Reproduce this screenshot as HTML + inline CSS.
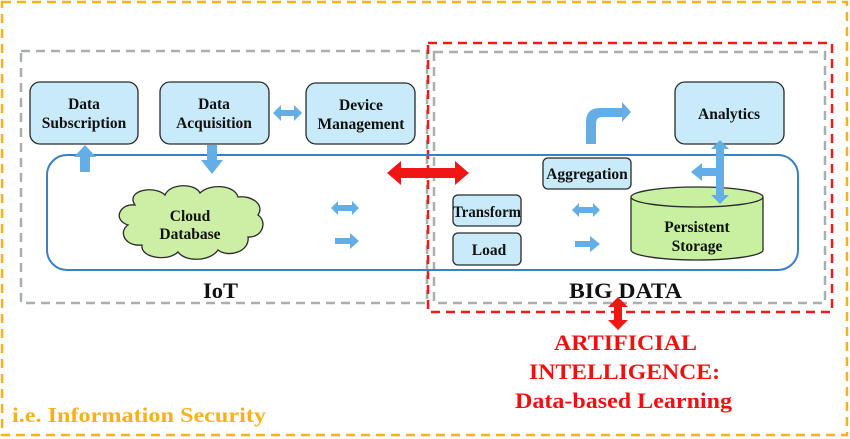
<!DOCTYPE html>
<html><head><meta charset="utf-8"><style>
html,body{margin:0;padding:0;background:#fff;}
svg{display:block;}
text{font-family:"Liberation Serif",serif;font-weight:bold;}
</style></head><body>
<svg width="850" height="439" viewBox="0 0 850 439" xmlns="http://www.w3.org/2000/svg">
<!-- outer orange -->
<rect x="2" y="2" width="845" height="433" fill="none" stroke="#f6b21b" stroke-width="2.5" stroke-dasharray="9,6"/>
<!-- gray boxes -->
<rect x="21" y="51" width="406" height="252" fill="none" stroke="#a9afae" stroke-width="2.5" stroke-dasharray="9,6"/>
<rect x="434" y="52" width="391" height="251" fill="none" stroke="#a9afae" stroke-width="2.5" stroke-dasharray="9,6"/>
<!-- red box -->
<rect x="428" y="43" width="404" height="269" fill="none" stroke="#f01a1a" stroke-width="2.5" stroke-dasharray="9,6"/>
<!-- blue big rounded -->
<rect x="47" y="155" width="751" height="115" rx="20" fill="none" stroke="#3b7fc4" stroke-width="2"/>

<g fill="#c8eaf9" stroke="#2a2a2a" stroke-width="1.3">
<rect x="30" y="82" width="108" height="62" rx="10"/>
<rect x="160" y="82" width="109" height="62" rx="10"/>
<rect x="306" y="83" width="109" height="61" rx="10"/>
<rect x="675" y="82" width="109" height="62" rx="10"/>
<rect x="543" y="158" width="88" height="31" rx="5"/>
<rect x="453" y="195" width="68" height="31" rx="5"/>
<rect x="453" y="233" width="68" height="32" rx="5"/>
</g>
<path d="M631 197 L631 250 A66 10 0 0 0 763 250 L763 197" fill="#c7f0a0" stroke="#2a2a2a" stroke-width="1.3"/>
<ellipse cx="697" cy="197" rx="66" ry="10" fill="#c7f0a0" stroke="#2a2a2a" stroke-width="1.3"/>
<path d="M135 205 C125 190 155 185 165 195 C170 183 195 183 200 193 C210 183 235 185 238 197 C252 195 265 205 258 215 C268 222 262 238 248 237 C250 252 228 258 218 250 C210 262 185 262 178 252 C168 262 140 258 142 245 C125 247 118 232 128 225 C112 220 120 203 135 205 Z" fill="#cdeea5" stroke="#2a2a2a" stroke-width="1.3"/>

<g fill="#64aee8">
<polygon points="80,172 90,172 90,157 96,157 85,145 74,157 80,157"/>
<polygon points="207,145 217,145 217,160 223,160 212,174 201,160 207,160"/>
<polygon points="273,113 281,105 281,110 294,110 294,105 302,113 294,121 294,116 281,116 281,121"/>
<polygon points="331,208 338,201 338,205 352,205 352,201 359,208 352,215 352,211 338,211 338,215"/>
<polygon points="335,238 350,238 350,233 359,241 350,249 350,244 335,244"/>
<polygon points="572,210 579,203 579,207 593,207 593,203 600,210 593,217 593,213 579,213 579,217"/>
<polygon points="575,241 590,241 590,236 600,244 590,252 590,247 575,247"/>
<path d="M586 144 L586 122 Q586 108 600 108 L622 108 L622 102 L631 112 L622 122 L622 117 L602 117 Q596 117 596 124 L596 144 Z"/>
<polygon points="716,203 716,176 702,176 702,181 691,172 702,163 702,168 716,168 716,149 711,149 720,140 729,149 724,149 724,195 729,195 720,204 711,195 716,195"/>
</g>
<g fill="#f01616">
<polygon points="387,173 401,161 401,168 455,168 455,161 469,173 455,185 455,178 401,178 401,185"/>
<polygon points="618,297 628,307 622,307 622,320 628,320 618,330 608,320 614,320 614,307 608,307"/>
</g>

<g font-size="15.5" fill="#111" text-anchor="middle">
<text x="84" y="109">Data</text><text x="84" y="128">Subscription</text>
<text x="214" y="109">Data</text><text x="214" y="128">Acquisition</text>
<text x="361" y="110">Device</text><text x="361" y="129">Management</text>
<text x="729" y="119">Analytics</text>
<text x="587" y="179">Aggregation</text>
<text x="487" y="217" textLength="68" lengthAdjust="spacingAndGlyphs">Transform</text>
<text x="489" y="255">Load</text>
<text x="190" y="221">Cloud</text><text x="190" y="239">Database</text>
<text x="697" y="232">Persistent</text><text x="697" y="251">Storage</text>
</g>
<text x="203" y="298" font-size="22" textLength="35" lengthAdjust="spacingAndGlyphs" fill="#111">IoT</text>
<text x="569" y="298" font-size="22" textLength="113" lengthAdjust="spacingAndGlyphs" fill="#111">BIG DATA</text>
<g font-size="22" fill="#ee1111">
<text x="554" y="350" textLength="143" lengthAdjust="spacingAndGlyphs">ARTIFICIAL</text>
<text x="529" y="379" textLength="191" lengthAdjust="spacingAndGlyphs">INTELLIGENCE:</text>
<text x="515" y="408" textLength="217" lengthAdjust="spacingAndGlyphs">Data-based Learning</text>
</g>
<text x="12" y="422" font-size="21" textLength="254" lengthAdjust="spacingAndGlyphs" fill="#f6b21b">i.e. Information Security</text>
</svg>
</body></html>
